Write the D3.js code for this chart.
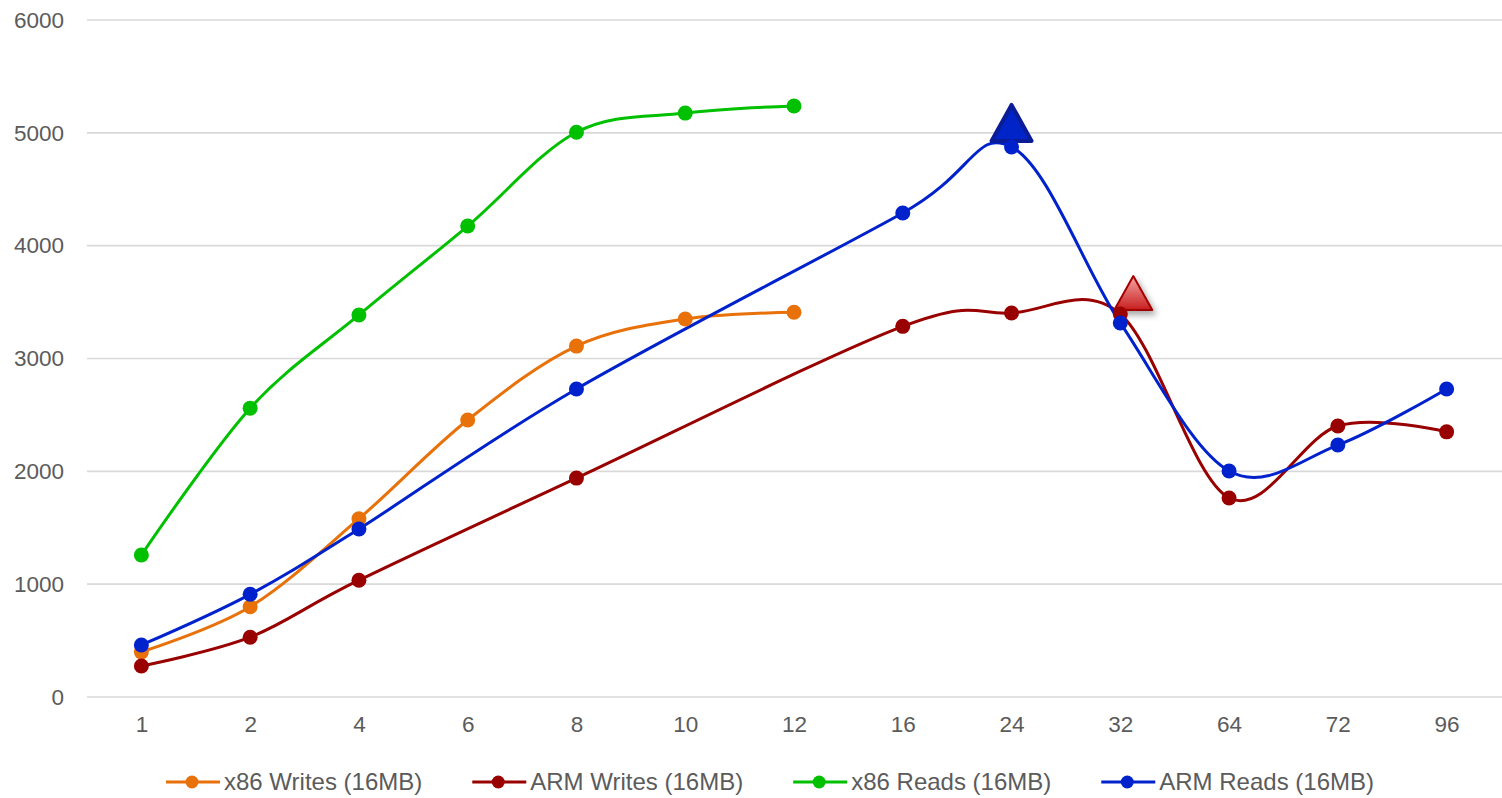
<!DOCTYPE html>
<html>
<head>
<meta charset="utf-8">
<script src="https://cdn.jsdelivr.net/npm/d3@7"></script>
<style>
  html, body { margin: 0; padding: 0; background: #fff; }
  svg { display: block; font-family: "Liberation Sans", Arial, sans-serif; }
</style>
</head>
<body>
<svg id="chart" width="1502" height="798"></svg>
<script>
// Thread counts along the x axis
const categories = ["1", "2", "4", "6", "8", "10", "12", "16", "24", "32", "64", "72", "96"];
const yTicks = [0, 1000, 2000, 3000, 4000, 5000, 6000];

// Throughput per thread count (null = not measured)
const x86Writes = [400, 800, 1580, 2455, 3110, 3350, 3410, null, null, null, null, null, null];
const armWrites = [275, 530, 1035, null, 1940, null, null, 3285, 3403, 3394, 1764, 2402, 2350];
const x86Reads  = [1258, 2560, 3386, 4174, 5005, 5175, 5238, null, null, null, null, null, null];
const armReads  = [461, 910, 1489, null, 2730, null, null, 4290, 4875, 3315, 2003, 2233, 2730];

const seriesNames  = ["x86 Writes (16MB)", "ARM Writes (16MB)", "x86 Reads (16MB)", "ARM Reads (16MB)"];
const seriesColors = ["#e8710a", "#990000", "#00c000", "#0022cc"];
const seriesValues = [x86Writes, armWrites, x86Reads, armReads];

// Peak markers: series index and category
const peakSeries = [3, 1];
const peakCats   = ["24", "32"];

const svg = d3.select("#chart");
const x = d3.scalePoint().domain(categories).range([87, 1501]).padding(0.5);
const y = d3.scaleLinear().domain([0, 6000]).range([697, 20]);

const textColor = "#5b5b5b";

// Horizontal gridlines
svg.append("g")
  .selectAll("line")
  .data(yTicks)
  .join("line")
  .attr("x1", 87).attr("x2", 1502)
  .attr("y1", d => y(d)).attr("y2", d => y(d))
  .attr("stroke", "#d9d9d9")
  .attr("stroke-width", 1.6);

// Y axis labels
const yAxis = svg.append("g")
  .attr("transform", "translate(64,0)")
  .call(d3.axisLeft(y).tickValues(yTicks).tickSize(0).tickPadding(0).tickFormat(d3.format("d")));
yAxis.select(".domain").remove();
yAxis.selectAll("text").attr("fill", textColor).attr("font-size", 22.5).attr("font-family", "Liberation Sans, Arial, sans-serif");

// X axis labels
const xAxis = svg.append("g")
  .attr("transform", "translate(0,716)")
  .call(d3.axisBottom(x).tickSize(0).tickPadding(0));
xAxis.select(".domain").remove();
xAxis.selectAll("text").attr("fill", textColor).attr("font-size", 22.5).attr("dy", "0.71em").attr("font-family", "Liberation Sans, Arial, sans-serif");

const seriesData = seriesValues.map((vals, i) => ({
  name: seriesNames[i],
  color: seriesColors[i],
  points: categories.map((c, j) => ({ cat: c, value: vals[j] })).filter(p => p.value != null)
}));

const line = d3.line()
  .x(d => x(d.cat))
  .y(d => y(d.value))
  .curve(d3.curveCardinal.tension(0));

// Smoothed series lines
svg.append("g")
  .selectAll("path")
  .data(seriesData)
  .join("path")
  .attr("d", d => line(d.points))
  .attr("fill", "none")
  .attr("stroke", d => d.color)
  .attr("stroke-width", 3)
  .attr("stroke-linejoin", "round");

// Peak triangles
const defs = svg.append("defs");
const grad = defs.append("linearGradient").attr("id", "redGrad").attr("x1", 0).attr("y1", 0).attr("x2", 0).attr("y2", 1);
grad.append("stop").attr("offset", "0%").attr("stop-color", "#f6a5a5");
grad.append("stop").attr("offset", "100%").attr("stop-color", "#c81e1e");
const shadow = defs.append("filter").attr("id", "shadow").attr("x", "-50%").attr("y", "-50%").attr("width", "200%").attr("height", "200%");
shadow.append("feDropShadow").attr("dx", 3).attr("dy", 4).attr("stdDeviation", 3).attr("flood-color", "#000").attr("flood-opacity", 0.35);

const peakStyles = [
  { dx: 0, gap: 6, w: 40, h: 36, fill: "#0024c8", stroke: "#0a1c96", sw: 4, filter: null },
  { dx: 13, gap: 4, w: 38, h: 34, fill: "url(#redGrad)", stroke: "#a30000", sw: 2, filter: "url(#shadow)" }
];

const peaks = peakSeries.map((s, i) => {
  const j = categories.indexOf(peakCats[i]);
  return { cat: peakCats[i], value: seriesValues[s][j], style: peakStyles[i] };
});

svg.append("g")
  .selectAll("path")
  .data(peaks)
  .join("path")
  .attr("d", d => {
    const cx = x(d.cat) + d.style.dx;
    const by = y(d.value) - d.style.gap;
    const hw = d.style.w / 2;
    return `M${cx - hw},${by}L${cx},${by - d.style.h}L${cx + hw},${by}Z`;
  })
  .attr("fill", d => d.style.fill)
  .attr("stroke", d => d.style.stroke)
  .attr("stroke-width", d => d.style.sw)
  .attr("stroke-linejoin", "round")
  .attr("filter", d => d.style.filter);

// Data points
svg.append("g")
  .selectAll("g")
  .data(seriesData)
  .join("g")
  .attr("fill", d => d.color)
  .selectAll("circle")
  .data(d => d.points)
  .join("circle")
  .attr("cx", d => x(d.cat))
  .attr("cy", d => y(d.value))
  .attr("r", 7.5);

// Legend
const legend = svg.append("g").attr("transform", "translate(0,782)");
const items = legend.selectAll("g").data(seriesData).join("g");
items.append("line")
  .attr("x1", 0).attr("x2", 54).attr("y1", 0).attr("y2", 0)
  .attr("stroke", d => d.color).attr("stroke-width", 3);
items.append("circle").attr("cx", 26).attr("cy", 0).attr("r", 6.5).attr("fill", d => d.color);
items.append("text")
  .attr("x", 58).attr("y", 0).attr("dy", "0.35em")
  .attr("fill", textColor)
  .attr("font-size", 24)
  .text(d => d.name);

let cursor = 0;
const offsets = [];
items.each(function () {
  offsets.push(cursor);
  const w = 58 + this.querySelector("text").getComputedTextLength();
  cursor += w + 50;
});
const total = cursor - 50;
const start = 770 - total / 2;
items.attr("transform", (d, i) => `translate(${start + offsets[i]},0)`);
</script>
</body>
</html>
